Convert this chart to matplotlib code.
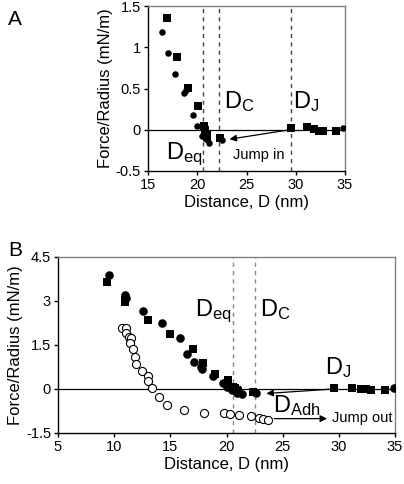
import matplotlib
matplotlib.use("Agg")
import matplotlib.pyplot as plt

plt.rcParams['font.family'] = ['Liberation Sans', 'DejaVu Sans']
plt.rcParams['mathtext.fontset'] = 'custom'
plt.rcParams['mathtext.rm'] = 'Liberation Sans'
plt.rcParams['mathtext.it'] = 'Liberation Sans:italic'
plt.rcParams['mathtext.bf'] = 'Liberation Sans:bold'

# ---------- Panel A data ----------
a_sq_x = [16.9, 17.9, 19.05, 20.1, 20.65, 20.8, 20.95, 21.0, 22.3, 29.55, 31.1, 31.9, 32.4, 32.8, 34.1]
a_sq_y = [1.36, 0.88, 0.51, 0.29, 0.05, 0.0, -0.05, -0.09, -0.10, 0.02, 0.03, 0.01, -0.01, -0.02, -0.01]
a_ci_x = [16.4, 17.0, 17.7, 18.7, 18.9, 19.6, 20.0, 20.5, 20.85, 21.2, 22.55, 34.8]
a_ci_y = [1.19, 0.93, 0.68, 0.45, 0.48, 0.18, 0.04, -0.07, -0.11, -0.16, -0.13, 0.02]
a_vlines = [20.6, 22.2, 29.55]

# ---------- Panel B data ----------
b_sq_x = [9.33, 10.95, 11.0, 13.05, 14.98, 16.98, 17.92, 18.98, 20.15, 20.6, 20.75, 20.95, 21.05, 22.38,
          29.6, 31.2, 31.95, 32.45, 32.9, 34.15]
b_sq_y = [3.64, 2.97, 3.05, 2.34, 1.86, 1.36, 0.88, 0.52, 0.30, 0.08, 0.02, -0.03, -0.08, -0.11,
          0.02, 0.02, 0.0, -0.01, -0.02, -0.02]
b_ci_x = [9.55, 11.0, 11.02, 12.6, 14.22, 15.85, 16.45, 17.1, 17.8, 17.75, 18.8, 19.65, 20.0, 20.5,
          20.9, 21.35, 22.65, 34.9]
b_ci_y = [3.90, 3.20, 3.10, 2.65, 2.25, 1.75, 1.19, 0.93, 0.68, 0.75, 0.45, 0.19, 0.07, -0.05,
          -0.12, -0.18, -0.15, 0.03]
b_op_x = [10.73, 11.09, 11.03, 11.33, 11.47, 11.45, 11.68, 11.89, 11.98, 12.48, 13.02, 13.05, 13.38,
          13.97, 14.71, 16.2, 17.98, 19.76, 20.35, 21.1, 22.14, 22.88, 23.27, 23.71]
b_op_y = [2.08, 2.08, 1.92, 1.77, 1.75, 1.57, 1.35, 1.08, 0.86, 0.63, 0.43, 0.26, 0.02,
          -0.27, -0.53, -0.70, -0.82, -0.82, -0.85, -0.90, -0.93, -0.98, -1.01, -1.05]
b_vlines = [20.6, 22.5]

fig = plt.figure(figsize=(4.04, 4.84), dpi=100)

def style(ax):
    for s in ['top', 'right']:
        ax.spines[s].set_color('#808080')
    for s in ['left', 'bottom']:
        ax.spines[s].set_color('black')
    for s in ax.spines.values():
        s.set_linewidth(1.0)
    ax.tick_params(direction='out', length=3, width=1, labelsize=10.5, pad=2, top=False, right=False)

# Panel A
axA = fig.add_axes([148/404, 1-171/484, (345-148)/404, (171-6)/484])
axA.set_xlim(15, 35)
axA.set_ylim(-0.5, 1.5)
axA.set_xticks([15, 20, 25, 30, 35])
axA.set_yticks([-0.5, 0, 0.5, 1, 1.5])
axA.set_yticklabels(['-0.5', '0', '0.5', '1', '1.5'])
axA.axhline(0, color='black', lw=0.9, zorder=1)
for v in a_vlines:
    axA.axvline(v, color='#444444', lw=1.0, ls=(0, (3, 3)), zorder=1)
axA.scatter(a_sq_x, a_sq_y, marker='s', s=38, color='black', zorder=3, linewidths=0)
axA.scatter(a_ci_x, a_ci_y, marker='o', s=22, color='black', zorder=3, linewidths=0)
axA.text(16.8, -0.35, r'D$_{\mathrm{eq}}$', fontsize=17)
axA.text(22.7, 0.26, r'D$_{\mathrm{C}}$', fontsize=17)
axA.text(29.7, 0.26, r'D$_{\mathrm{J}}$', fontsize=17)
axA.text(23.6, -0.36, 'Jump in', fontsize=10.5)
axA.annotate('', xy=(23.0, -0.12), xytext=(29.4, 0.0),
             arrowprops=dict(arrowstyle='-|>', color='black', lw=0.9, mutation_scale=10))
axA.set_xlabel('Distance, D (nm)', fontsize=12, labelpad=2)
axA.set_ylabel('Force/Radius (mN/m)', fontsize=12, labelpad=2)
style(axA)
fig.text(8/404, 1-25/484, 'A', fontsize=15)

# Panel B
axB = fig.add_axes([58/404, 1-433/484, (395-58)/404, (433-257)/484])
axB.set_xlim(5, 35)
axB.set_ylim(-1.5, 4.5)
axB.set_xticks([5, 10, 15, 20, 25, 30, 35])
axB.set_yticks([-1.5, 0, 1.5, 3, 4.5])
axB.set_yticklabels(['-1.5', '0', '1.5', '3', '4.5'])
axB.axhline(0, color='black', lw=0.9, zorder=1)
for v in b_vlines:
    axB.axvline(v, color='#888888', lw=1.0, ls=(0, (3, 3)), zorder=1)
axB.scatter(b_sq_x, b_sq_y, marker='s', s=38, color='black', zorder=3, linewidths=0)
axB.scatter(b_ci_x, b_ci_y, marker='o', s=38, color='black', zorder=3, linewidths=0)
axB.scatter(b_op_x, b_op_y, marker='o', s=34, facecolor='white', edgecolor='black', linewidths=0.8, zorder=3)
axB.text(17.2, 2.5, r'D$_{\mathrm{eq}}$', fontsize=17)
axB.text(23.0, 2.5, r'D$_{\mathrm{C}}$', fontsize=17)
axB.text(28.8, 0.5, r'D$_{\mathrm{J}}$', fontsize=17)
axB.text(24.1, -0.8, r'D$_{\mathrm{Adh}}$', fontsize=17)
axB.text(29.4, -1.14, 'Jump out', fontsize=10.5)
axB.annotate('', xy=(23.3, -0.16), xytext=(29.5, 0.0),
             arrowprops=dict(arrowstyle='-|>', color='black', lw=0.9, mutation_scale=10))
axB.annotate('', xy=(29.2, -1.01), xytext=(24.0, -1.01),
             arrowprops=dict(arrowstyle='-|>', color='black', lw=0.9, mutation_scale=10))
axB.set_xlabel('Distance, D (nm)', fontsize=12, labelpad=2)
axB.set_ylabel('Force/Radius (mN/m)', fontsize=12, labelpad=2)
style(axB)
fig.text(8/404, 1-256/484, 'B', fontsize=15)

fig.savefig('out.png', dpi=100)
